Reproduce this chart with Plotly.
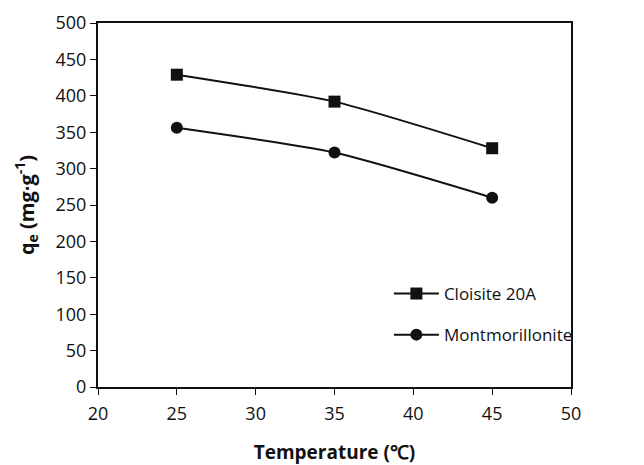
import plotly.graph_objects as go

temperature = [25, 35, 45]
cloisite_20a = [429, 392, 328]
montmorillonite = [356, 322, 260]

x_ticks = [20, 25, 30, 35, 40, 45, 50]
y_ticks = [0, 50, 100, 150, 200, 250, 300, 350, 400, 450, 500]

FONT = "Open Sans"

fig = go.Figure()
fig.add_trace(go.Scatter(
    x=temperature, y=cloisite_20a, name="Cloisite 20A",
    mode="lines+markers", line=dict(color="#111111", width=2, shape="spline", smoothing=0.6),
    marker=dict(symbol="square", size=12, color="#111111"), legendgroup="a",
))
fig.add_trace(go.Scatter(
    x=temperature, y=montmorillonite, name="Montmorillonite",
    mode="lines+markers", line=dict(color="#111111", width=2, shape="spline", smoothing=0.6),
    marker=dict(symbol="circle", size=12, color="#111111"), legendgroup="b",
))

axis_common = dict(
    showline=True, linecolor="#111111", linewidth=2, mirror=True,
    ticks="outside", ticklen=6, tickcolor="#111111", tickwidth=1,
    showgrid=False, zeroline=False, automargin=False,
    tickfont=dict(family=FONT, size=18, color="#111111"),
)

fig.update_layout(
    width=644, height=465,
    margin=dict(l=98, r=73, t=23, b=78),
    paper_bgcolor="white", plot_bgcolor="white",
    font=dict(family=FONT, color="#111111"),
    xaxis=dict(range=[20, 50], tickvals=x_ticks, ticklabelstandoff=3,
               title=dict(text="<b>Temperature (\u2103)</b>", font=dict(family=FONT, size=19), standoff=26),
               **axis_common),
    yaxis=dict(range=[0, 500], tickvals=y_ticks,
               title=dict(text="<b>q<sub>e</sub> (mg\u00b7g<sup>-1</sup>)</b>", font=dict(family=FONT, size=20), standoff=16),
               **axis_common),
    legend=dict(x=0.615, y=0.305, xanchor="left", yanchor="top",
                font=dict(family=FONT, size=17, color="#111111"),
                bgcolor="rgba(0,0,0,0)", tracegroupgap=16, itemwidth=45),
    showlegend=True,
)

fig.write_html("out.html")
